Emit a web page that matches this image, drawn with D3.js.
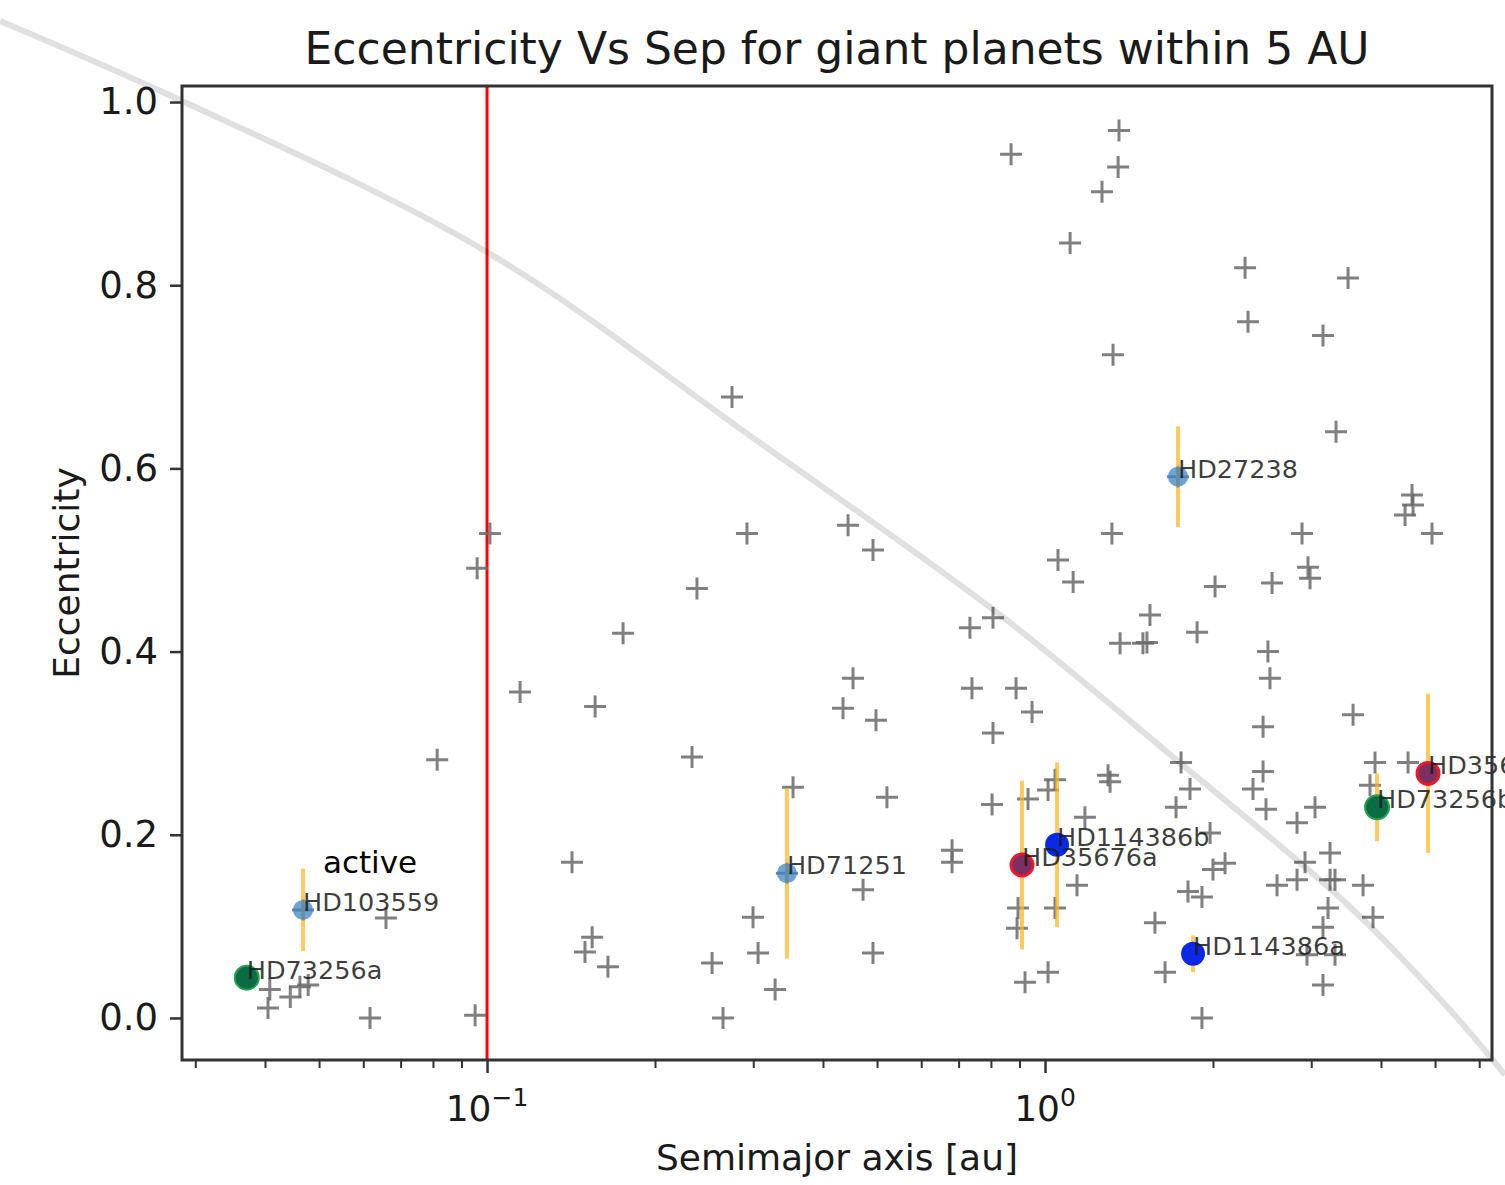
<!DOCTYPE html>
<html><head><meta charset="utf-8">
<script src="https://cdn.jsdelivr.net/npm/d3@7"></script>
<style>body{margin:0;background:#fff}svg{display:block}text{font-family:"DejaVu Sans",sans-serif}</style>
</head><body><svg id="c" width="1505" height="1185"></svg>
<script>
// ---------- data ----------
const chartTitle = "Eccentricity Vs Sep for giant planets within 5 AU";
const xLabel = "Semimajor axis [au]";
const yLabel = "Eccentricity";
const yTicks = [0.0, 0.2, 0.4, 0.6, 0.8, 1.0];
const xMajorTicks = [0.1, 1];
const xMajorExp = ["\u22121", "0"];
const xMinorTicks = [0.03,0.04,0.05,0.06,0.07,0.08,0.09,0.2,0.3,0.4,0.5,0.6,0.7,0.8,0.9,2,3,4,5,6];
const innerEdge = 0.1;

// catalogue planets (grey crosses)
const catalogA = [0.0405,0.0408,0.0444,0.0462,0.0478,0.0617,0.0952,0.0659,0.0814,0.0960,0.1012,0.1146,0.1420,0.1543,0.1498,0.1647,0.1562,0.1753,0.2378,0.2330,0.2923,0.2748,0.2531,0.2648,0.2997,0.3060,0.3283,0.3535,0.4436,0.4917,0.4528,0.4345,0.4978,0.5208,0.4719,0.4917,0.6813,0.6813,0.7336,0.8068,0.7397,0.8873,0.9478,0.8068,0.8036,0.9323,1.0125,1.042,0.8946,0.8909,1.042,0.9208,1.0125,1.141,1.179,1.297,1.308,1.574,1.641,1.911,0.8692,1.357,1.352,1.265,1.109,2.283,3.492,2.311,3.149,1.324,3.323,1.318,1.055,1.123,1.542,1.363,1.498,1.523,1.873,2.017,2.552,2.888,2.960,2.985,2.509,2.530,2.459,3.565,4.547,4.566,4.418,4.938,1.753,1.819,1.717,2.459,2.359,2.489,3.047,2.829,3.903,4.473,3.823,1.976,2.102,2.000,1.804,1.911,2.924,3.242,2.605,2.829,3.242,3.309,3.715,3.215,3.871,3.149,2.948,3.309,3.149,0.0468,0.3447,1.731];
const catalogE = [0.011,0.031,0.023,0.034,0.036,0.000,0.003,0.109,0.282,0.491,0.529,0.356,0.170,0.088,0.072,0.056,0.340,0.420,0.469,0.285,0.529,0.678,0.060,0.000,0.110,0.071,0.031,0.252,0.538,0.511,0.371,0.338,0.325,0.241,0.140,0.071,0.183,0.170,0.426,0.437,0.360,0.360,0.334,0.311,0.233,0.239,0.249,0.260,0.120,0.098,0.120,0.039,0.050,0.145,0.219,0.265,0.258,0.104,0.050,0.000,0.943,0.969,0.929,0.902,0.846,0.819,0.808,0.760,0.745,0.724,0.640,0.529,0.500,0.476,0.440,0.409,0.409,0.410,0.421,0.471,0.475,0.529,0.492,0.480,0.400,0.371,0.318,0.331,0.571,0.560,0.549,0.529,0.279,0.250,0.230,0.269,0.250,0.228,0.230,0.213,0.279,0.279,0.254,0.202,0.169,0.162,0.138,0.132,0.170,0.180,0.145,0.151,0.151,0.151,0.145,0.120,0.110,0.099,0.069,0.069,0.036,0.118,0.158,0.591];

// highlighted targets
const targetNames = ["HD73256a","HD103559","HD71251","HD35676a","HD114386b","HD27238","HD114386a","HD73256b","HD35676b"];
const targetA     = [0.0371,0.0468,0.3447,0.9094,1.051,1.731,1.842,3.936,4.858];
const targetE     = [0.044,0.118,0.158,0.167,0.189,0.591,0.070,0.230,0.267];
const targetErr   = [0,0.045,0.093,0.092,0.090,0.055,0.020,0.037,0.087];
const targetGroup = ["green","active","active","red","blue","active","blue","green","red"];

// grey reference curve
const curveA = [0.01341,0.02818,0.1,0.3034,0.8306,1.746,3.521,5.319,6.674];
const curveE = [1.0885,1.0022,0.8362,0.6310,0.4400,0.2784,0.1212,0.0087,-0.0622];

const activeNote = {text: "active", a: 0.0617, e: 0.158};

// ---------- drawing ----------
const M = {left:182, right:1492, top:86, bottom:1060};
const x = d3.scaleLog().domain([0.0284, 6.325]).range([M.left, M.right]);
const y = d3.scaleLinear().domain([-0.0459, 1.0175]).range([M.bottom, M.top]);
const svg = d3.select("#c");

const styles = {
  green:  {r:12, fill:"#0b6b45", stroke:"#1ea34f", sw:2, op:1},
  active: {r:10, fill:"#3d85c6", stroke:"none", sw:0, op:0.75},
  red:    {r:11, fill:"#7a3060", stroke:"#e8192c", sw:3, op:1},
  blue:   {r:12, fill:"#0b28e6", stroke:"none", sw:0, op:1}
};

svg.append("rect").attr("x",M.left).attr("y",M.top).attr("width",M.right-M.left).attr("height",M.bottom-M.top).attr("fill","#fff");

// red inner-edge line
svg.append("line").attr("x1",x(innerEdge)).attr("x2",x(innerEdge)).attr("y1",M.top).attr("y2",M.bottom)
  .attr("stroke","#ff0000").attr("stroke-width",3);

// crosses
const cat = d3.zip(catalogA, catalogE);
svg.append("g").selectAll("path").data(cat).join("path")
  .attr("transform", d => `translate(${x(d[0])},${y(d[1])})`)
  .attr("d","M-11,0H11M0,-11V11")
  .attr("stroke","#6a6a6a").attr("stroke-opacity",0.85).attr("stroke-width",3).attr("fill","none");

const tgt = targetNames.map((n,i)=>({name:n,a:targetA[i],e:targetE[i],err:targetErr[i],g:targetGroup[i]}));

// error bars
svg.append("g").selectAll("line").data(tgt.filter(d=>d.err>0)).join("line")
  .attr("x1",d=>x(d.a)).attr("x2",d=>x(d.a))
  .attr("y1",d=>y(d.e-d.err)).attr("y2",d=>y(d.e+d.err))
  .attr("stroke","#ffb31a").attr("stroke-opacity",0.7).attr("stroke-width",4);

// circles
svg.append("g").selectAll("circle").data(tgt).join("circle")
  .attr("cx",d=>x(d.a)).attr("cy",d=>y(d.e))
  .attr("r",d=>styles[d.g].r)
  .attr("fill",d=>styles[d.g].fill).attr("fill-opacity",d=>styles[d.g].op)
  .attr("stroke",d=>styles[d.g].stroke).attr("stroke-width",d=>styles[d.g].sw);

// labels
svg.append("g").selectAll("text").data(tgt).join("text")
  .attr("x",d=>x(d.a)).attr("y",d=>y(d.e)+1)
  .attr("font-size",25.5).attr("fill","#1a1a1a").attr("fill-opacity",0.85)
  .text(d=>d.name);

// active note
svg.append("text").attr("x",x(activeNote.a)).attr("y",y(activeNote.e))
  .attr("text-anchor","middle").attr("font-size",31).attr("fill","#000").text(activeNote.text);

// grey curve (spans whole figure)
svg.append("path").datum(d3.zip(curveA,curveE))
  .attr("d", d3.line().x(d=>x(d[0])).y(d=>y(d[1])).curve(d3.curveCatmullRom))
  .attr("fill","none").attr("stroke","#000").attr("stroke-opacity",0.12).attr("stroke-width",6);

// frame
svg.append("rect").attr("x",M.left).attr("y",M.top).attr("width",M.right-M.left).attr("height",M.bottom-M.top)
  .attr("fill","none").attr("stroke","#333").attr("stroke-width",3);

// y axis
const gy = svg.append("g").attr("transform",`translate(${M.left},0)`)
  .call(d3.axisLeft(y).tickValues(yTicks).tickFormat(d3.format(".1f")).tickSize(12).tickPadding(12));
gy.select(".domain").remove();
gy.selectAll(".tick line").attr("stroke","#333").attr("stroke-width",2.5);
gy.selectAll(".tick text").attr("font-size",37).attr("fill","#1a1a1a").attr("font-family","DejaVu Sans");

// x axis major
const gx = svg.append("g").attr("transform",`translate(0,${M.bottom})`)
  .call(d3.axisBottom(x).tickValues(xMajorTicks).tickFormat("").tickSize(13));
gx.select(".domain").remove();
gx.selectAll(".tick line").attr("stroke","#333").attr("stroke-width",2.5);
// x axis minor
const gxm = svg.append("g").attr("transform",`translate(0,${M.bottom})`)
  .call(d3.axisBottom(x).tickValues(xMinorTicks).tickFormat("").tickSize(8));
gxm.select(".domain").remove();
gxm.selectAll(".tick line").attr("stroke","#333").attr("stroke-width",2);

// x major labels with superscripts
xMajorTicks.forEach((v,i)=>{
  const t = svg.append("text").attr("x",x(v)).attr("y",1121).attr("text-anchor","middle")
    .attr("font-size",36).attr("fill","#1a1a1a");
  t.append("tspan").text("10");
  t.append("tspan").attr("dy",-15).attr("font-size",25).text(xMajorExp[i]);
});

// axis labels & title
svg.append("text").attr("x",(M.left+M.right)/2).attr("y",1170).attr("text-anchor","middle")
  .attr("font-size",36).attr("fill","#1a1a1a").text(xLabel);
svg.append("text").attr("transform",`translate(79,${(M.top+M.bottom)/2}) rotate(-90)`).attr("text-anchor","middle")
  .attr("font-size",36).attr("fill","#1a1a1a").text(yLabel);
svg.append("text").attr("x",(M.left+M.right)/2).attr("y",64).attr("text-anchor","middle")
  .attr("font-size",44).attr("fill","#1a1a1a").text(chartTitle);
</script></body></html>
